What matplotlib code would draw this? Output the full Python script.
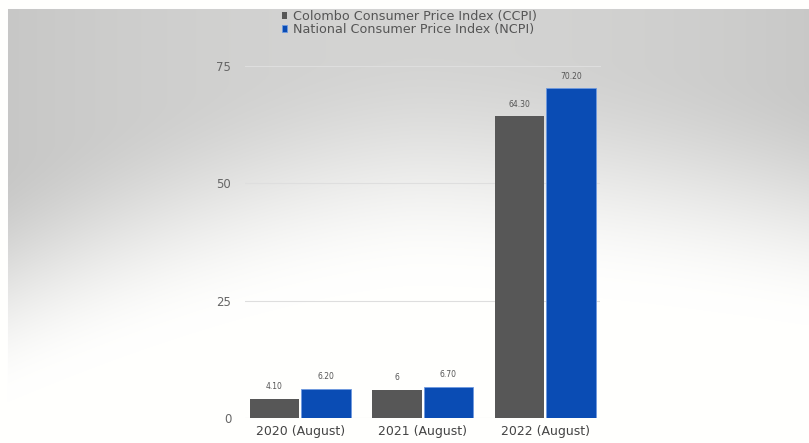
import matplotlib.pyplot as plt
import numpy as np

# Inflation figures (August of each year)
periods = ["2020 (August)", "2021 (August)", "2022 (August)"]
ccpi = [4.10, 6, 64.30]
ncpi = [6.20, 6.70, 70.20]
ccpi_labels = ["4.10", "6", "64.30"]
ncpi_labels = ["6.20", "6.70", "70.20"]

GRAY = "#575757"
BLUE = "#0a4cb4"
TEXT = "#555555"

fig = plt.figure(figsize=(8.09, 4.43), dpi=100)

# gray backdrop fading to white towards the bottom
bg = fig.add_axes([0, 0, 1, 1])
H, W = 443, 809
yy, xx = np.mgrid[0:H, 0:W].astype(float)
u = (xx - 420) / 420
yt = 165 + 120 * np.clip(-u, 0, 1) ** 1.5 + 45 * np.clip(u, 0, 1) ** 1.5
s = np.clip((yy - yt) / 240 + 0.5, 0, 1)
s = s * s * (3 - 2 * s)
shade = 1 - (0.17 + 0.05 * u ** 2) * (1 - s)
shade[:9, :] = 1.0
shade[:, :8] = 1.0
img = np.dstack([shade, shade, shade * 0.995])
bg.imshow(img, aspect="auto", extent=[0, 1, 0, 1])
bg.axis("off")

ax = fig.add_axes([0.303, 0.0564, 0.439, 0.795])
ax.set_facecolor("none")

x = np.arange(len(periods))
width = 0.405
off = 0.21
b1 = ax.bar(x - off, ccpi, width, color=GRAY, zorder=3, label="Colombo Consumer Price Index (CCPI)")
b2 = ax.bar(x + off, ncpi, width, color=BLUE, edgecolor="#6f9ae0", linewidth=0.6, zorder=3,
            label="National Consumer Price Index (NCPI)")

for xi, v, t in zip(x - off, ccpi, ccpi_labels):
    ax.text(xi, v + 1.6, t, ha="center", va="bottom", fontsize=5.5, color=TEXT)
for xi, v, t in zip(x + off, ncpi, ncpi_labels):
    ax.text(xi, v + 1.6, t, ha="center", va="bottom", fontsize=5.5, color=TEXT)

ax.set_xlim(-0.45, 2.45)
ax.set_ylim(0, 75)
ax.set_yticks([0, 25, 50, 75])
ax.set_xticks(x)
ax.set_xticklabels(periods, fontsize=9, color="#444444")
ax.tick_params(axis="both", length=0)
ax.tick_params(axis="y", pad=10, labelsize=8.5, labelcolor="#666666")
ax.tick_params(axis="x", pad=5)
ax.yaxis.grid(True, color="#dedede", linewidth=0.8, zorder=0)
ax.get_ygridlines()[-1].set_clip_on(False)
for s_ in ax.spines.values():
    s_.set_visible(False)

leg = fig.legend(handles=[b1, b2], loc="upper left", bbox_to_anchor=(0.341, 0.992),
                 frameon=False, fontsize=9.2, handlelength=0.4, handleheight=0.4,
                 handletextpad=0.45, labelspacing=0.0, borderpad=0)
for t in leg.get_texts():
    t.set_color(TEXT)

fig.savefig("out.png", dpi=100)
